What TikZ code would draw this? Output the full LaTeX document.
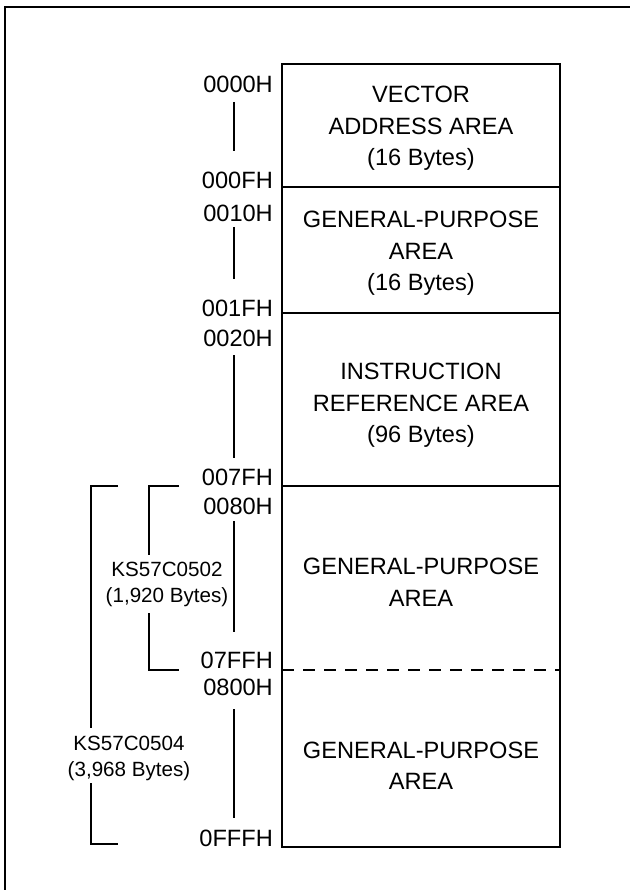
\documentclass[tikz,border=0pt]{standalone}
\usepackage{fontspec}
\setmainfont{Liberation Sans}
\begin{document}
\begin{tikzpicture}[x=1pt,y=-1pt,
  line/.style={line width=2.3pt},
  areatext/.style={font=\fontsize{23.6}{31.5}\selectfont,align=center,inner sep=0pt},
  addr/.style={font=\fontsize{23.6}{28}\selectfont,anchor=base east,inner sep=0pt},
  chiptext/.style={font=\fontsize{20.6}{26}\selectfont,align=center,inner sep=0pt}]
\useasboundingbox (0,0) rectangle (629,890);
% outer frame (only left and top visible)
\draw[line width=2.6pt] (5,895) -- (5,7) -- (635,7);
% memory box
\coordinate (tl) at (282,64);
\coordinate (br) at (560,847);
\draw[line] (tl) rectangle (br);
\draw[line] (282,187) -- (560,187);
\draw[line] (282,313) -- (560,313);
\draw[line] (282,486) -- (560,486);
\draw[line,dash pattern=on 12pt off 9pt] (282,670) -- (560,670);
% area texts
\node[areatext] (a1) at (421,128.5) {VECTOR\\ADDRESS AREA\\(16 Bytes)};
\node[areatext] (a2) at (421,253.5) {GENERAL-PURPOSE\\AREA\\(16 Bytes)};
\node[areatext] (a3) at (421,405.5) {INSTRUCTION\\REFERENCE AREA\\(96 Bytes)};
\node[areatext] (a4) at (421,582.5) {GENERAL-PURPOSE\\AREA};
\node[areatext] (a5) at (421,766) {GENERAL-PURPOSE\\AREA};
% address labels
\node[addr] (l1) at (273,92.4) {0000H};
\node[addr] (l2) at (273,188.4) {000FH};
\node[addr] (l3) at (273,221.4) {0010H};
\node[addr] (l4) at (273,316.4) {001FH};
\node[addr] (l5) at (273,346.4) {0020H};
\node[addr] (l6) at (273,485.4) {007FH};
\node[addr] (l7) at (273,514.4) {0080H};
\node[addr] (l8) at (273,668.4) {07FFH};
\node[addr] (l9) at (273,695.4) {0800H};
\node[addr] (l10) at (273,846.4) {0FFFH};
% range lines
\draw[line] (234,102) -- (234,151);
\draw[line] (234,227) -- (234,279);
\draw[line] (234,355) -- (234,458);
\draw[line] (234,521) -- (234,632);
\draw[line] (234,709) -- (234,818);
% chip brackets
\node[chiptext] (k2) at (167,584) {KS57C0502\\(1,920 Bytes)};
\node[chiptext] (k4) at (129,758) {KS57C0504\\(3,968 Bytes)};
\draw[line] (179,486) -- (149,486) -- (149,555);
\draw[line] (149,613) -- (149,670) -- (179,670);
\draw[line] (118,486) -- (91,486) -- (91,728);
\draw[line] (91,783) -- (91,844) -- (118,844);
\end{tikzpicture}
\end{document}
